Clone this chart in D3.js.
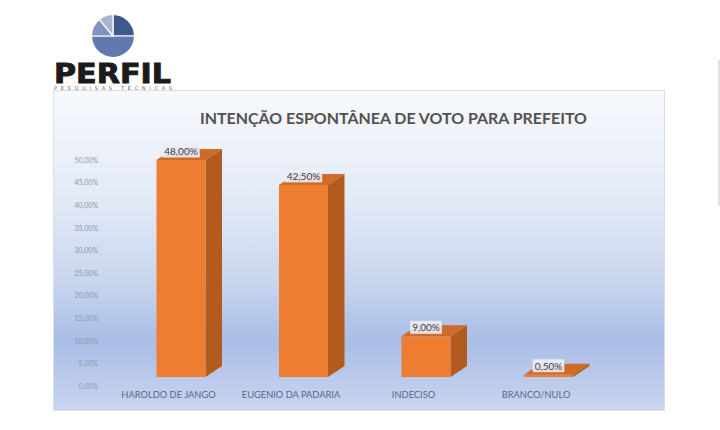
<!DOCTYPE html>
<html>
<head>
<meta charset="utf-8">
<script src="https://cdn.jsdelivr.net/npm/d3@7"></script>
<style>
  html, body { margin: 0; padding: 0; background: #fff; }
  svg { display: block; }
</style>
</head>
<body>
<svg id="chart" width="720" height="430"></svg>
<script>
// chart data
const categories = ['HAROLDO DE JANGO', 'EUGENIO DA PADARIA', 'INDECISO', 'BRANCO/NULO'];
const votes = [48.0, 42.5, 9.0, 0.5];
const yTicks = [0, 5, 10, 15, 20, 25, 30, 35, 40, 45, 50];
const title = 'INTENÇÃO ESPONTÂNEA DE VOTO PARA PREFEITO';

// logo pie slices (clockwise from 12 o'clock)
const logoSlices = [25, 50, 14, 11];
const logoColors = ['#3e5a8c', '#6179ae', '#8192c1', '#aab6d0'];

let svg = d3.select('#chart');
let ptBR = d3.formatLocale({ decimal: ',', thousands: '.', grouping: [3], currency: ['R$', ''] });
let pct = v => ptBR.format('.2f')(v) + '%';

// gradient for the chart panel
let defs = svg.append('defs');
let grad = defs.append('linearGradient')
  .attr('id', 'panelGrad').attr('x1', 0).attr('y1', 0).attr('x2', 0).attr('y2', 1);
[[0, '#f7f9fd'], [0.35, '#e2e9f6'], [0.6, '#c9d5ee'], [0.78, '#a9bde6'], [1, '#c9d5ee']]
  .forEach(s => grad.append('stop').attr('offset', s[0]).attr('stop-color', s[1]));

// logo
let pie = d3.pie().sort(null).value(d => d);
let arc = d3.arc().innerRadius(0).outerRadius(21.5);
svg.append('g')
  .attr('transform', 'translate(113,36)')
  .selectAll('path')
  .data(pie(logoSlices))
  .enter().append('path')
  .attr('d', arc)
  .attr('fill', (d, i) => logoColors[i])
  .attr('stroke', '#fff')
  .attr('stroke-width', 1.2);

svg.append('text')
  .attr('x', 54).attr('y', 83)
  .attr('font-family', 'DejaVu Sans')
  .attr('font-weight', 'bold')
  .attr('font-size', 26)
  .attr('textLength', 117)
  .attr('lengthAdjust', 'spacingAndGlyphs')
  .attr('fill', '#1b1b1b')
  .attr('stroke', '#1b1b1b')
  .attr('stroke-width', 0.9)
  .text('PERFIL');

svg.append('text')
  .attr('x', 54).attr('y', 90)
  .attr('font-family', 'DejaVu Sans')
  .attr('font-size', 5)
  .attr('textLength', 118)
  .attr('lengthAdjust', 'spacing')
  .attr('fill', '#666')
  .text('PESQUISAS TÉCNICAS');

// thin line at the right edge
svg.append('line')
  .attr('x1', 719).attr('x2', 719).attr('y1', 60).attr('y2', 206)
  .attr('stroke', '#c4c4c4').attr('stroke-width', 1);

// panel
svg.append('rect')
  .attr('x', 53.5).attr('y', 90.5).attr('width', 611).attr('height', 320)
  .attr('fill', 'url(#panelGrad)')
  .attr('stroke', '#dcdfe6').attr('stroke-width', 1);

svg.append('text')
  .attr('x', 200).attr('y', 124)
  .attr('font-family', 'Lato')
  .attr('font-weight', 'bold')
  .attr('font-size', 16)
  .attr('textLength', 387)
  .attr('lengthAdjust', 'spacingAndGlyphs')
  .attr('fill', '#525252')
  .text(title);

// scales
let x = d3.scaleBand().domain(categories).range([119.75, 609.75])
  .paddingInner(0.6).paddingOuter(0.3);
let y = d3.scaleLinear().domain([0, 50]).range([377, 151]);
let depthX = 16.5, depthY = 11;

// y axis (on the back wall, so shifted down)
let yAxis = svg.append('g')
  .attr('transform', 'translate(98,9)')
  .call(d3.axisLeft(y).tickValues(yTicks).tickSize(0).tickPadding(0).tickFormat(pct));
yAxis.select('.domain').remove();
yAxis.selectAll('text')
  .attr('font-family', 'Lato')
  .attr('font-size', 7)
  .attr('fill', '#8a97b0');

// category axis
let xAxis = svg.append('g')
  .attr('transform', 'translate(-12.5,391)')
  .call(d3.axisBottom(x).tickSize(0).tickPadding(0));
xAxis.select('.domain').remove();
xAxis.selectAll('text')
  .attr('font-family', 'Lato')
  .attr('font-size', 9.3)
  .attr('fill', '#56698a');

// 3d bars
let bars = svg.append('g').selectAll('g')
  .data(votes.map((v, i) => ({ cat: categories[i], v: v })))
  .enter().append('g');

bars.append('polygon')
  .attr('fill', '#b35a1f')
  .attr('points', d => {
    let x1 = x(d.cat) + x.bandwidth(), t = y(d.v), b = y(0);
    return [[x1, t], [x1 + depthX, t - depthY], [x1 + depthX, b - depthY], [x1, b]].join(' ');
  });

bars.append('polygon')
  .attr('fill', '#cf6a28')
  .attr('points', d => {
    let x0 = x(d.cat), x1 = x0 + x.bandwidth(), t = y(d.v);
    return [[x0, t], [x0 + depthX, t - depthY], [x1 + depthX, t - depthY], [x1, t]].join(' ');
  });

bars.append('rect')
  .attr('x', d => x(d.cat))
  .attr('y', d => y(d.v))
  .attr('width', x.bandwidth())
  .attr('height', d => y(0) - y(d.v))
  .attr('fill', '#ed7d31');

// data labels
let labels = bars.append('g')
  .attr('transform', d => 'translate(' + (x(d.cat) + x.bandwidth() / 2) + ',' + (y(d.v) - 8.5) + ')');
labels.append('rect').attr('class', 'lblbg');
labels.append('text')
  .attr('text-anchor', 'middle')
  .attr('dy', '0.35em')
  .attr('font-family', 'Lato')
  .attr('font-size', 10)
  .attr('fill', '#3c4250')
  .text(d => pct(d.v));
labels.each(function () {
  let g = d3.select(this);
  let bb = g.select('text').node().getBBox();
  g.select('.lblbg')
    .attr('x', bb.x - 2).attr('y', bb.y - 0.5)
    .attr('width', bb.width + 4).attr('height', bb.height + 1)
    .attr('fill', '#e9eef7').attr('fill-opacity', 0.9);
});
</script>
</body>
</html>
